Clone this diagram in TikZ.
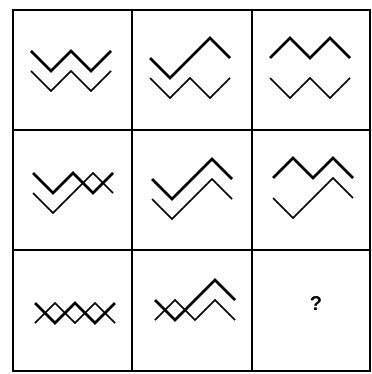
\documentclass[tikz,border=0pt]{standalone}
\usepackage{fontspec}
\setmainfont{Liberation Sans}
\tikzset{
	heavy/.style={line width=2pt},
	light/.style={line width=1.1pt},
	frame/.style={line width=1.3pt},
	zzW/.pic={\draw[pic actions] (0,0)--(20,20)--(40,0)--(60,20)--(80,0);},
	zzV/.pic={\draw[pic actions] (0,0)--(20,20)--(60,-20)--(80,0);},
	zzM/.pic={\draw[pic actions] (0,0)--(20,-20)--(40,0)--(60,-20)--(80,0);}
}
\begin{document}
\begin{tikzpicture}[x=0.75pt,y=-0.75pt,line join=miter]
				\useasboundingbox (0,0) rectangle (371,374);
				\coordinate (TL) at (13,10);
				\coordinate (BR) at (370,371);
				\draw[frame] (TL) rectangle (BR);
				\foreach \i in {132,252}{\draw[frame] (\i,10)--(\i,371);}
				\foreach \i in {130,250}{\draw[frame] (13,\i)--(370,\i);}
				% thick line on top, thin line one step lower
				\foreach \x/\y/\a/\b in {31/51/W/W, 150/58/V/W, 270/58/M/W,
					33/173/W/V, 152/179/V/V, 273/178/M/V,
					35/303/W/M, 155/300/V/M}{
					\pic[heavy] at (\x,\y) {zz\a};
					\pic[light] at (\x,\y+20) {zz\b};
				}
				\node[font=\fontsize{15}{18}\selectfont\bfseries] (Q) at (316,304) {?};
\end{tikzpicture}
\end{document}
